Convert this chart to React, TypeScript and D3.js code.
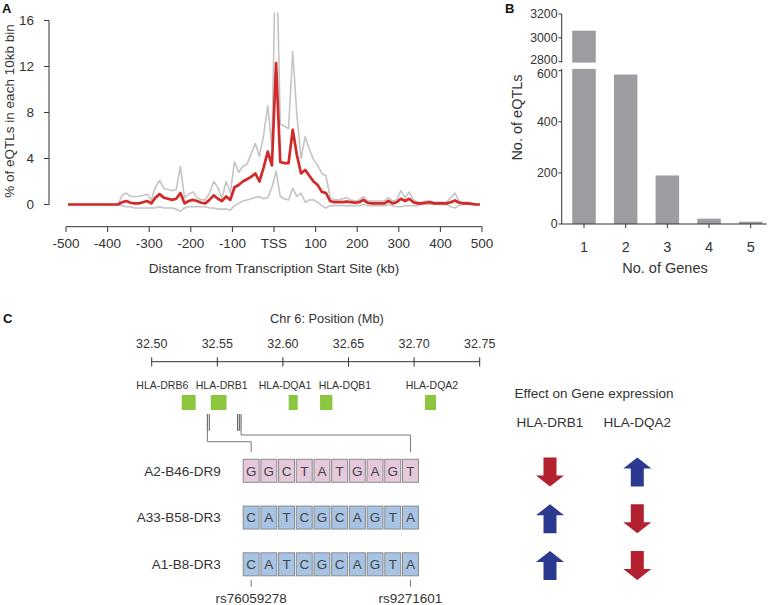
import React from 'react';
import * as d3 from 'd3';

// ---------- Panel A data ----------
const binCenters = d3.range(-495, 500, 10);
const meanPct = [
  0, 0, 0, 0, 0, 0, 0, 0, 0, 0, 0, 0, 0,
  0.2, 0.3, 0.15, 0.1, 0.1, 0.2, 0.3, 0.1, 0.6, 0.9, 0.6, 0.5, 0.4, 0.5, 1.0, 0.1, 0.3, 0.4,
  0.3, 0.15, 0.1, 0.4, 0.8, 0.5, 0.3, 0.7, 0.4,
  1.5, 1.7, 2.0, 2.2, 2.4, 2.7, 2.0, 3.2, 4.6, 3.4,
  12.3, 3.7, 3.6, 3.6, 6.5, 4.3, 2.7, 3.0, 2.5, 2.0, 1.7, 1.1, 1.0, 0.3,
  0.2, 0.2, 0.2, 0.25, 0.2, 0.15, 0.2, 0.4, 0.15, 0.1,
  0.1, 0.1, 0.1, 0.3, 0.1, 0.2, 0.5, 0.3, 0.5, 0.2,
  0.1, 0.1, 0.15, 0.2, 0.1, 0.1, 0.1, 0.1, 0.2, 0.35,
  0.15, 0.1, 0.1, 0.05, 0, 0,
];
const upperPct = [
  0, 0, 0, 0, 0, 0, 0, 0, 0, 0, 0, 0, 0,
  0.8, 1.0, 0.7, 0.7, 0.7, 0.8, 0.9, 0.4, 1.5, 2.1, 1.4, 1.3, 1.2, 1.3, 3.3, 0.6, 0.9, 1.1,
  0.6, 0.4, 0.4, 1.0, 2.0, 1.5, 0.5, 2.0, 1.0,
  3.7, 2.8, 3.3, 3.5, 4.4, 5.3, 4.2, 6.0, 8.6, 5.0,
  24, 7.0, 6.8, 6.6, 13.3, 7.8, 4.0, 5.9, 4.8, 3.9, 3.4, 2.7, 2.5, 0.6,
  0.4, 0.4, 0.5, 0.6, 0.4, 0.3, 0.4, 0.7, 0.3, 0.3,
  0.3, 0.3, 0.3, 0.6, 0.3, 0.4, 1.2, 0.6, 1.1, 0.4,
  0.2, 0.2, 0.3, 0.3, 0.2, 0.2, 0.2, 0.2, 0.6, 1.0,
  0.3, 0.2, 0.2, 0.1, 0, 0,
];
const lowerPct = [
  0, 0, 0, 0, 0, 0, 0, 0, 0, 0, 0, 0, 0,
  -0.1, -0.2, -0.2, -0.3, -0.3, -0.3, -0.3, -0.3, -0.3, -0.2, -0.3, -0.3, -0.3, -0.4, -0.6, -0.3, -0.2, -0.2,
  -0.2, -0.2, -0.2, -0.3, -0.3, -0.4, -0.4, -0.4, -0.5,
  -0.1, 0.1, 0.3, 0.4, 0.5, 0.6, 0.7, 0.5, 0.6, 1.5,
  2.9, 0.7, 0.5, 0.4, 1.4, 0.7, 1.0, 0.2, 0.4, 0.4, 0.2, -0.1, -0.3, -0.1,
  -0.1, -0.1, -0.1, -0.1, -0.1, -0.1, -0.1, 0, -0.1, -0.1,
  -0.1, -0.1, -0.1, 0, -0.1, -0.2, -0.2, -0.1, -0.1, -0.1,
  -0.1, 0, 0, 0, 0, 0, 0, 0, -0.2, -0.3,
  -0.1, 0, 0, 0, 0, 0,
];
const xTicksA = [-500, -400, -300, -200, -100, 0, 100, 200, 300, 400, 500];
const xTickLabelsA = ['-500', '-400', '-300', '-200', '-100', 'TSS', '100', '200', '300', '400', '500'];
const yTicksA = [0, 4, 8, 12, 16];

// ---------- Panel B data ----------
const geneCounts = ['1', '2', '3', '4', '5'];
const eqtlCounts = [3060, 585, 190, 21, 9];
const yTicksBLow = [0, 200, 400, 600];
const yTicksBHigh = [2800, 3000, 3200];

// ---------- Panel C data ----------
const mbTicks = [32.5, 32.55, 32.6, 32.65, 32.7, 32.75];
const geneNames = ['HLA-DRB6', 'HLA-DRB1', 'HLA-DQA1', 'HLA-DQB1', 'HLA-DQA2'];
const geneStart = [32.5229, 32.545, 32.6044, 32.6283, 32.7083];
const geneEnd = [32.5335, 32.557, 32.6113, 32.6377, 32.7167];
const geneLabelMb = [32.5081, 32.5534, 32.6016, 32.6473, 32.7136];
const snpGroupA = [32.5424, 32.5439];
const snpGroupB = [32.5655, 32.5668, 32.5681];
const haplotypes = ['A2-B46-DR9', 'A33-B58-DR3', 'A1-B8-DR3'];
const alleles = [
  ['G', 'G', 'C', 'T', 'A', 'T', 'G', 'A', 'G', 'T'],
  ['C', 'A', 'T', 'C', 'G', 'C', 'A', 'G', 'T', 'A'],
  ['C', 'A', 'T', 'C', 'G', 'C', 'A', 'G', 'T', 'A'],
];
const haplotypeGroup = ['risk', 'other', 'other'];
const snpIds = ['rs76059278', 'rs9271601'];
const snpIdIndex = [0, 9];
const effectGenes = ['HLA-DRB1', 'HLA-DQA2'];
const effects = [
  ['down', 'up'],
  ['up', 'down'],
  ['up', 'down'],
];

const FONT = '"Liberation Sans", Arial, sans-serif';
const TXT = '#333';
const AX = '#333';

function arrowPath(cx: number, cy: number, dir: string) {
  const h = 29, hw = 14, sw = 6.5, hl = 11;
  const top = cy - h / 2, bot = cy + h / 2;
  if (dir === 'up') {
    return `M${cx},${top}L${cx + hw},${top + hl}L${cx + sw},${top + hl}L${cx + sw},${bot}L${cx - sw},${bot}L${cx - sw},${top + hl}L${cx - hw},${top + hl}Z`;
  }
  return `M${cx},${bot}L${cx + hw},${bot - hl}L${cx + sw},${bot - hl}L${cx + sw},${top}L${cx - sw},${top}L${cx - sw},${bot - hl}L${cx - hw},${bot - hl}Z`;
}

export default function App() {
  // Panel A scales
  const xA = d3.scaleLinear().domain([-500, 500]).range([66, 482]);
  const yA = d3.scaleLinear().domain([0, 16]).range([204.5, 20.5]);
  const lineA = (vals: number[]) =>
    d3.line<number>().x((_, i) => xA(binCenters[i])).y((v) => yA(v))(vals) || '';

  // Panel B scales
  const xB = d3.scalePoint<string>().domain(geneCounts).range([584, 750.7]);
  const barW = 23.5;
  const yLow = d3.scaleLinear().domain([0, 600]).range([224, 70.7]);
  const yHigh = d3.scaleLinear().domain([2800, 3200]).range([61.7, 14]);
  const lowTop = 607;
  const highBottom = 2792;

  // Panel C scales
  const xMb = d3.scaleLinear().domain([32.5, 32.75]).range([151.7, 479.7]);
  const cellX = d3.scaleBand<number>().domain(d3.range(10)).range([242.3, 419.3]).paddingInner(0.1).paddingOuter(0.05);
  const rowY = d3.scalePoint<string>().domain(haplotypes).range([470.8, 564.3]);
  const cellH = 23;
  const colX = d3.scalePoint<string>().domain(effectGenes).range([550, 637.3]);
  const cellCenter = (i: number) => (cellX(i) as number) + cellX.bandwidth() / 2;

  const firstRowTop = (rowY(haplotypes[0]) as number) - cellH / 2;
  const lastRowBottom = (rowY(haplotypes[2]) as number) + cellH / 2;

  return (
    <svg width={773} height={605} style={{ position: 'absolute', left: 0, top: 0, background: '#fff' }} fontFamily={FONT}>
      <defs>
        <clipPath id="clipA">
          <rect x={60} y={12.5} width={430} height={210} />
        </clipPath>
      </defs>

      {/* ---------------- Panel A ---------------- */}
      <text x={2} y={13} fontSize={13} fontWeight="bold" fill="#111">A</text>
      <g clipPath="url(#clipA)" fill="none">
        <path d={lineA(upperPct)} stroke="#c4c4c4" strokeWidth={1.6} strokeLinejoin="round" />
        <path d={lineA(lowerPct)} stroke="#c4c4c4" strokeWidth={1.6} strokeLinejoin="round" />
        <path d={lineA(meanPct)} stroke="#d02a2a" strokeWidth={2.7} strokeLinejoin="round" />
      </g>
      {/* y axis */}
      <line x1={49} x2={49} y1={yA(16)} y2={yA(0)} stroke={AX} strokeWidth={1} />
      {yTicksA.map((t) => (
        <g key={t}>
          <line x1={44} x2={49} y1={yA(t)} y2={yA(t)} stroke={AX} />
          <text x={34} y={yA(t)} dy="0.36em" textAnchor="end" fontSize={13.5} fill={TXT}>{t}</text>
        </g>
      ))}
      <text transform={`translate(9,${111}) rotate(-90)`} textAnchor="middle" dy="0.35em" fontSize={13.5} fill={TXT}>
        % of eQTLs in each 10kb bin
      </text>
      {/* x axis */}
      <line x1={xA(-500)} x2={xA(500)} y1={226.7} y2={226.7} stroke={AX} />
      {xTicksA.map((t, i) => (
        <g key={t}>
          <line x1={xA(t)} x2={xA(t)} y1={226.7} y2={232} stroke={AX} />
          <text x={xA(t)} y={243.5} dy="0.36em" textAnchor="middle" fontSize={13.5} fill={TXT}>{xTickLabelsA[i]}</text>
        </g>
      ))}
      <text x={274} y={268} dy="0.36em" textAnchor="middle" fontSize={13.5} fill={TXT}>
        Distance from Transcription Start Site (kb)
      </text>

      {/* ---------------- Panel B ---------------- */}
      <text x={505} y={13} fontSize={13} fontWeight="bold" fill="#111">B</text>
      {eqtlCounts.map((v, i) => {
        const cx = xB(geneCounts[i]) as number;
        const lowVal = Math.min(v, lowTop);
        return (
          <g key={i} fill="#9c9da1">
            <rect x={cx - barW / 2} y={yLow(lowVal)} width={barW} height={yLow(0) - yLow(lowVal)} />
            {v > lowTop && (
              <rect x={cx - barW / 2} y={yHigh(v)} width={barW} height={yHigh(highBottom) - yHigh(v)} />
            )}
          </g>
        );
      })}
      {/* B y axis, two segments */}
      <line x1={561.7} x2={561.7} y1={yHigh(3200)} y2={yHigh(highBottom)} stroke={AX} />
      <line x1={561.7} x2={561.7} y1={yLow(lowTop)} y2={yLow(0)} stroke={AX} />
      {yTicksBHigh.map((t) => (
        <g key={t}>
          <line x1={558.5} x2={561.7} y1={yHigh(t)} y2={yHigh(t)} stroke={AX} />
          <text x={557.5} y={yHigh(t) - (t === 2800 ? 2.6 : 0)} dy="0.36em" textAnchor="end" fontSize={12.3} fill={TXT}>{t}</text>
        </g>
      ))}
      {yTicksBLow.map((t) => (
        <g key={t}>
          <line x1={558.5} x2={561.7} y1={yLow(t)} y2={yLow(t)} stroke={AX} />
          <text x={557.5} y={yLow(t) + (t === 600 ? 2.6 : 0)} dy="0.36em" textAnchor="end" fontSize={12.3} fill={TXT}>{t}</text>
        </g>
      ))}
      <line x1={561.7} x2={766.7} y1={yLow(0)} y2={yLow(0)} stroke={AX} />
      {geneCounts.map((g) => (
        <g key={g}>
          <line x1={xB(g) as number} x2={xB(g) as number} y1={224} y2={228} stroke={AX} />
          <text x={xB(g) as number} y={246.5} dy="0.36em" textAnchor="middle" fontSize={14.5} fill={TXT}>{g}</text>
        </g>
      ))}
      <text x={665} y={268} dy="0.36em" textAnchor="middle" fontSize={14.5} fill={TXT}>No. of Genes</text>
      <text transform={`translate(517,${117.5}) rotate(-90)`} textAnchor="middle" dy="0.35em" fontSize={14.5} fill={TXT}>
        No. of eQTLs
      </text>

      {/* ---------------- Panel C ---------------- */}
      <text x={3} y={323} fontSize={13} fontWeight="bold" fill="#111">C</text>
      <text x={327} y={318} dy="0.36em" textAnchor="middle" fontSize={12.8} fill={TXT}>Chr 6: Position (Mb)</text>
      <line x1={xMb(32.5)} x2={xMb(32.75)} y1={361.7} y2={361.7} stroke={AX} />
      {mbTicks.map((t) => (
        <g key={t}>
          <line x1={xMb(t)} x2={xMb(t)} y1={357.3} y2={366.5} stroke={AX} />
          <text x={xMb(t)} y={343.3} dy="0.36em" textAnchor="middle" fontSize={12.5} fill={TXT}>{t.toFixed(2)}</text>
        </g>
      ))}
      {geneNames.map((g, i) => (
        <g key={g}>
          <text x={xMb(geneLabelMb[i])} y={385} dy="0.36em" textAnchor="middle" fontSize={10.5} fill={TXT}>{g}</text>
          <rect x={xMb(geneStart[i])} y={395} width={xMb(geneEnd[i]) - xMb(geneStart[i])} height={15} fill="#8cc63f" />
        </g>
      ))}
      {[...snpGroupA, ...snpGroupB].map((s, i) => (
        <line key={i} x1={xMb(s)} x2={xMb(s)} y1={414} y2={431} stroke="#444" strokeWidth={0.9} />
      ))}
      {/* connectors */}
      <path
        d={`M${xMb(snpGroupA[0])},431V441.7H${cellCenter(0)}V${firstRowTop - 7}`}
        fill="none" stroke="#777" strokeWidth={1}
      />
      <path
        d={`M${xMb(snpGroupB[snpGroupB.length - 1])},431V435H${cellCenter(9)}V${firstRowTop - 7}`}
        fill="none" stroke="#777" strokeWidth={1}
      />
      {haplotypes.map((h, r) => {
        const cy = rowY(h) as number;
        const fill = haplotypeGroup[r] === 'risk' ? '#e6c8dc' : '#a7c4e5';
        return (
          <g key={h}>
            <text x={220.7} y={cy} dy="0.36em" textAnchor="end" fontSize={13.5} fill={TXT}>{h}</text>
            {alleles[r].map((a, i) => (
              <g key={i}>
                <rect x={cellX(i) as number} y={cy - cellH / 2} width={cellX.bandwidth()} height={cellH}
                  fill={fill} stroke="#8a8a8a" strokeWidth={1} />
                <text x={cellCenter(i)} y={cy} dy="0.36em" textAnchor="middle" fontSize={13.5} fill="#444">{a}</text>
              </g>
            ))}
          </g>
        );
      })}
      {snpIds.map((s, k) => (
        <g key={s}>
          <line x1={cellCenter(snpIdIndex[k])} x2={cellCenter(snpIdIndex[k])} y1={lastRowBottom + 4} y2={lastRowBottom + 11}
            stroke="#777" />
          <text x={cellCenter(snpIdIndex[k])} y={598.5} dy="0.36em" textAnchor="middle" fontSize={13.5} fill={TXT}>{s}</text>
        </g>
      ))}

      {/* Effects */}
      <text x={594} y={393.3} dy="0.36em" textAnchor="middle" fontSize={13.5} fill={TXT}>Effect on Gene expression</text>
      {effectGenes.map((g) => (
        <text key={g} x={colX(g) as number} y={421.7} dy="0.36em" textAnchor="middle" fontSize={13.5} fill={TXT}>{g}</text>
      ))}
      {haplotypes.map((h, r) =>
        effectGenes.map((g, c) => {
          const dir = effects[r][c];
          return (
            <path key={`${r}-${c}`} d={arrowPath(colX(g) as number, (rowY(h) as number) + 1.2, dir)}
              fill={dir === 'up' ? '#2b3990' : '#b3202f'} />
          );
        })
      )}
    </svg>
  );
}
